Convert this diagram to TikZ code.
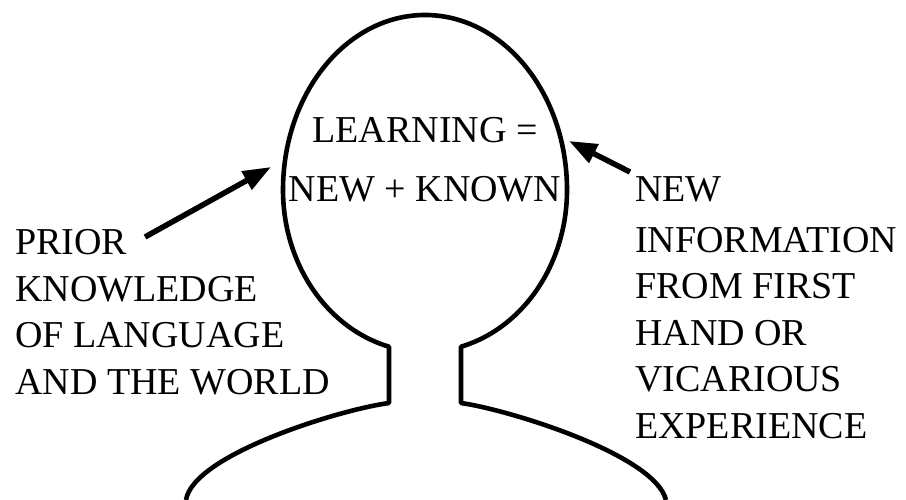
\documentclass[tikz,border=0pt]{standalone}
\usepackage{fontspec}
\setmainfont{Liberation Serif}
\usetikzlibrary{arrows.meta}
\begin{document}
\begin{tikzpicture}[x=1pt,y=1pt,
  outline/.style={line width=4.6pt,line join=round},
  pointer/.style={line width=5.5pt,-{Triangle[length=28pt,width=20pt]}},
  lbl/.style={inner sep=0pt,font=\fontsize{38}{46.5}\selectfont}]
\useasboundingbox (0,0) rectangle (906,500);

% head and shoulders, one open outline
\draw[outline]
  (186,0) .. controls (193,45) and (338,90) .. (389,97)
  -- (389,153.3)
  arc[start angle=255.31,end angle=180,x radius=142pt,y radius=162pt]
  arc[start angle=180,end angle=0,x radius=142pt,y radius=175pt]
  arc[start angle=360,end angle=284.69,x radius=142pt,y radius=162pt]
  -- (461,97)
  .. controls (510,90) and (655,45) .. (666,0);

% texts
\node[lbl,anchor=base] (eq) at (425,357)
  {\begin{tabular}[t]{@{}c@{}}LEARNING =\\[12.5pt]NEW + KNOWN\end{tabular}};
\node[lbl,anchor=base west] (prior) at (15,245)
  {\begin{tabular}[t]{@{}l@{}}PRIOR\\KNOWLEDGE\\OF LANGUAGE\\AND THE WORLD\end{tabular}};
\node[lbl,anchor=base west] (newinfo) at (635,298)
  {\begin{tabular}[t]{@{}l@{}}NEW\\[4pt]INFORMATION\\FROM FIRST\\HAND OR\\VICARIOUS\\EXPERIENCE\end{tabular}};

% arrows into the head
\coordinate (tailL) at (145,263);
\coordinate (tipL) at (271,333);
\coordinate (tailR) at (630,328);
\coordinate (tipR) at (569,359);
\draw[pointer] (tailL) -- (tipL);
\draw[pointer] (tailR) -- (tipR);
\end{tikzpicture}
\end{document}
